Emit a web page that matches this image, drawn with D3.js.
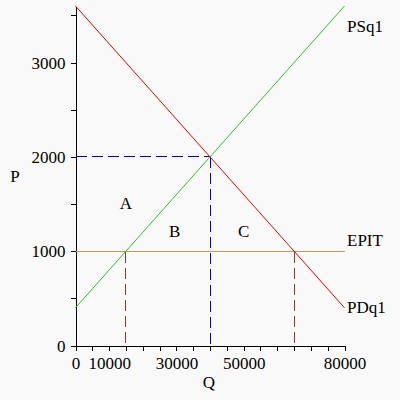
<!DOCTYPE html>
<html><head><meta charset="utf-8">
<script src="https://cdn.jsdelivr.net/npm/d3@7"></script>
<style>html,body{margin:0;padding:0;background:#f9f9f9;}svg{display:block;}</style>
</head><body>
<svg id="c" width="400" height="400"></svg>
<script>
// Data
const qDomain = [0, 80000];
const pDomain = [0, 3600];
const supplyQ = [0, 80000];
const supplyP = [400, 3600];
const demandQ = [0, 80000];
const demandP = [3600, 400];
const epitPrice = 1000;
const equilibrium = {q: 40000, p: 2000};
const epitQ = [15000, 65000];
const xTickValues = d3.range(0, 80001, 5000);
const xTickLabels = [0, 10000, 30000, 50000, 80000];
const yTickValues = d3.range(0, 3501, 500);
const yTickLabels = [0, 1000, 2000, 3000];
const areaLabels = [{t:"A", q:15000, p:1450}, {t:"B", q:29500, p:1150}, {t:"C", q:50000, p:1150}];

const svg = d3.select("#c");
const font = "'Liberation Serif','DejaVu Serif',serif";
const x = d3.scaleLinear().domain(qDomain).range([75.5, 344.5]);
const y = d3.scaleLinear().domain(pDomain).range([345.5, 6]);
const px = v => Math.floor(v) + 0.5;

// Axes
const xAxis = d3.axisBottom(x).tickValues(xTickValues).tickSize(5).tickSizeOuter(0)
  .tickFormat(d => xTickLabels.includes(d) ? String(d) : "");
const yAxis = d3.axisLeft(y).tickValues(yTickValues).tickSize(5).tickSizeOuter(0)
  .tickFormat(d => yTickLabels.includes(d) ? String(d) : "");

const gx = svg.append("g").attr("transform", `translate(0,${y(0)})`).call(xAxis);
const gy = svg.append("g").attr("transform", `translate(${x(0)},0)`).call(yAxis);
[gx, gy].forEach(g => {
  g.attr("shape-rendering", "crispEdges");
  g.select(".domain").attr("stroke", "#000");
  g.selectAll(".tick line").attr("stroke", "#000");
  g.selectAll("text").attr("font-family", font).attr("font-size", 17).attr("fill", "#000");
});
gx.selectAll("text").attr("dy", null).attr("y", 23);
gy.selectAll("text").attr("x", -10).attr("dy", "0.33em");

// EPIT line
svg.append("line").attr("x1", x(0)).attr("x2", x(80000)).attr("y1", px(y(epitPrice))).attr("y2", px(y(epitPrice)))
  .attr("stroke", "#cc9944").attr("stroke-width", 1).attr("shape-rendering", "crispEdges");

// dashed guides
const g2 = svg.append("g").attr("shape-rendering", "crispEdges");
g2.append("line").attr("x1", x(0)).attr("x2", px(x(equilibrium.q))).attr("y1", px(y(equilibrium.p))).attr("y2", px(y(equilibrium.p)))
  .attr("stroke", "#0000cc").attr("stroke-dasharray", "11,5");
g2.append("line").attr("x1", px(x(equilibrium.q))).attr("x2", px(x(equilibrium.q))).attr("y1", px(y(equilibrium.p))).attr("y2", y(0))
  .attr("stroke", "#0000cc").attr("stroke-dasharray", "11,5");
epitQ.forEach(q => {
  g2.append("line").attr("x1", px(x(q))).attr("x2", px(x(q))).attr("y1", px(y(epitPrice))).attr("y2", y(0))
    .attr("stroke", "#993333").attr("stroke-dasharray", "11,5");
});

// curves
const line = d3.line().x(d => x(d[0])).y(d => y(d[1]));
svg.append("path").datum(supplyQ.map((q,i) => [q, supplyP[i]])).attr("d", line)
  .attr("fill", "none").attr("stroke", "#22cc22").attr("stroke-width", 1);
svg.append("path").datum(demandQ.map((q,i) => [q, demandP[i]])).attr("d", line)
  .attr("fill", "none").attr("stroke", "#ee0000").attr("stroke-width", 1);

// labels
const txt = (s, tx, ty, anchor) => svg.append("text").text(s).attr("x", tx).attr("y", ty)
  .attr("font-family", font).attr("font-size", 17).attr("fill", "#000").attr("text-anchor", anchor || "start");
txt("PSq1", 347, 32);
txt("PDq1", 347, 313);
txt("EPIT", 347, 246);
areaLabels.forEach(a => txt(a.t, x(a.q), y(a.p), "middle"));
txt("P", 15, 182, "middle");
txt("Q", 209, 388, "middle");
</script>
</body></html>
